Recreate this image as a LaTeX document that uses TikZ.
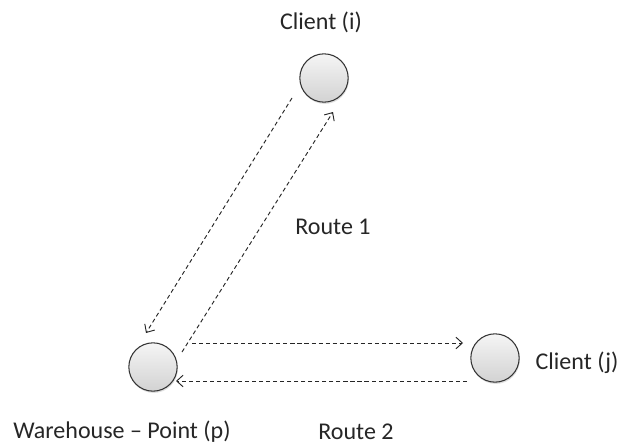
\documentclass[tikz,border=0pt]{standalone}
\usepackage{fontspec}
\setmainfont{Carlito}
\usetikzlibrary{arrows.meta,shadows}

\begin{document}
\begin{tikzpicture}[
    x=0.03cm, y=-0.03cm,
    stop/.style={
      circle,
      draw=black!80,
      line width=0.9pt,
      minimum size=1.45cm,
      top color=gray!8,
      bottom color=gray!35,
      drop shadow={opacity=0.25, shadow xshift=0.6pt, shadow yshift=-1.5pt}
    },
    label/.style={font=\fontsize{20.5}{24}\selectfont, text=black!85},
    route/.style={
      black!85,
      line width=0.8pt,
      dash pattern=on 3.5pt off 2.5pt,
      -{Straight Barb[length=5.5pt, width=10pt, line width=0.8pt]}
    }
  ]
  \useasboundingbox (0,0) rectangle (620,445);

  % Points
  \node[stop] (ci) at (324,78) {};
  \node[stop] (wh) at (153,367) {};
  \node[stop] (cj) at (495,358) {};

  % Labels
  \node[label] (cilabel) at (321,22) {Client (i)};
  \node[label] (cjlabel) at (577,363) {Client (j)};
  \node[label] (whlabel) at (122,432) {Warehouse -- Point (p)};
  \node[label] (routea) at (333,227) {Route 1};
  \node[label] (routeb) at (356,432) {Route 2};

  % Route 1
  \draw[route] ([shift={(-32,20)}]ci.center) -- ([shift={(-7,-34)}]wh.center);
  \draw[route] ([shift={(29,-15)}]wh.center) -- ([shift={(9,34)}]ci.center);

  % Route 2
  \draw[route] ([shift={(39,-24)}]wh.center) -- ([shift={(-32,-15)}]cj.center);
  \draw[route] ([shift={(-28,23)}]cj.center) -- ([shift={(23,14)}]wh.center);
\end{tikzpicture}
\end{document}
